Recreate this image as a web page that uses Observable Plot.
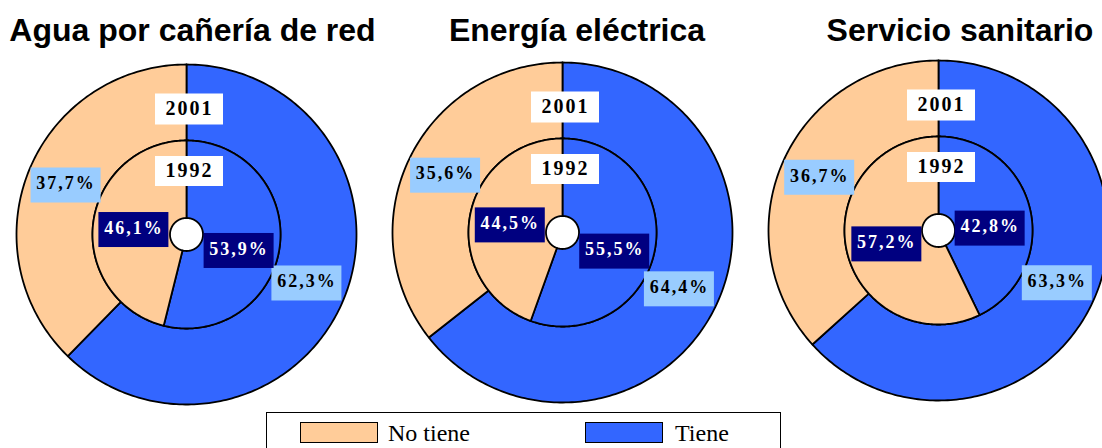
<!DOCTYPE html>
<html><head><meta charset="utf-8">
<script src="https://cdn.jsdelivr.net/npm/d3@7"></script>
<script src="https://cdn.jsdelivr.net/npm/@observablehq/plot@0.6"></script>
<style>
body{margin:0;background:#fff;}
#wrap{position:relative;width:1102px;height:448px;overflow:hidden;background:#fff;}
.title{position:absolute;top:14px;font:bold 32px "Liberation Sans",Arial,sans-serif;line-height:32px;white-space:nowrap;transform:translateX(-50%);color:#000;}
.panel{position:absolute;width:372px;height:372px;}
.panel svg{max-width:none !important;width:372px;height:372px;}
.panel svg text{letter-spacing:2px;}
#legend{position:absolute;left:266px;top:412px;width:515px;height:60px;border:1px solid #000;box-sizing:border-box;background:#fff;}
.sw{position:absolute;top:9px;width:78px;height:21px;border:1.5px solid #000;box-sizing:border-box;}
.lt{position:absolute;top:8px;font:24px "Liberation Serif","Times New Roman",serif;line-height:24px;color:#000;white-space:nowrap;}
</style></head>
<body><div id="wrap"></div>
<script>
// ---- data ----
const services = ["Agua por cañería de red", "Energía eléctrica", "Servicio sanitario"];
const years = ["1992", "2001"];
const categories = ["Tiene", "No tiene"];
const tiene1992 = [53.9, 55.5, 42.8];
const noTiene1992 = [46.1, 44.5, 57.2];
const tiene2001 = [62.3, 64.4, 63.3];
const noTiene2001 = [37.7, 35.6, 36.7];
const colors = ["#3366FF", "#FFCC99"];

// ---- layout ----
const SIZE = 372, UNIT = 170;           // px per unit (outer radius)
const R_OUT = 170, R_MID = 94, R_HOLE = 16.5;
const LAB_OUT = 130, LAB_IN = 53;
const innerLabelDrop = [10, 2];         // px downward shift of inner labels, per category
const panelLeft = [0, 376, 752];
const panelTop = [48, 46, 44];
const titleCenter = [192.5, 577, 960];

const wrap = document.getElementById("wrap");
const fmt = v => v.toFixed(1).replace(".", ",") + "%";

function ring(values, r0, r1, key) {
  let start = 0; const pts = [], labels = [];
  values.forEach((v, i) => {
    const a0 = start, a1 = start + v / 100 * 2 * Math.PI; start = a1;
    const n = Math.max(2, Math.ceil((a1 - a0) / (Math.PI / 180)));
    const poly = [];
    for (let k = 0; k <= n; k++) { const a = a0 + (a1 - a0) * k / n; poly.push([r1 * Math.sin(a), r1 * Math.cos(a)]); }
    for (let k = n; k >= 0; k--) { const a = a0 + (a1 - a0) * k / n; poly.push([r0 * Math.sin(a), r0 * Math.cos(a)]); }
    poly.push(poly[0]);
    poly.forEach(([x, y]) => pts.push({x: x / UNIT, y: y / UNIT, id: key + i, cat: categories[i]}));
    const mid = (a0 + a1) / 2;
    labels.push({v, mid, i});
  });
  return {pts, labels};
}

services.forEach((s, j) => {
  const t = document.createElement("div");
  t.className = "title"; t.style.left = titleCenter[j] + "px"; t.textContent = s;
  wrap.appendChild(t);

  const outer = ring([tiene2001[j], noTiene2001[j]], R_MID, R_OUT, "o");
  const inner = ring([tiene1992[j], noTiene1992[j]], R_HOLE, R_MID, "i");
  const outLab = outer.labels.map(d => ({text: fmt(d.v), x: LAB_OUT * Math.sin(d.mid) / UNIT, y: LAB_OUT * Math.cos(d.mid) / UNIT}));
  const inLab = inner.labels.map(d => ({text: fmt(d.v), x: LAB_IN * Math.sin(d.mid) / UNIT, y: (LAB_IN * Math.cos(d.mid) - innerLabelDrop[d.i]) / UNIT}));
  const yearLab = [
    {text: years[1], x: 3 / UNIT, y: 125 / UNIT, h: 31},
    {text: years[0], x: 3 / UNIT, y: 63 / UNIT, h: 30}
  ];
  const bw = 35 / UNIT, bh = 17.5 / UNIT;
  const half = SIZE / 2 / UNIT;
  const txt = {x: "x", y: "y", text: "text", fontFamily: "Liberation Serif, Times New Roman, serif", fontWeight: "bold", fontSize: 18, dy: -2};

  const chart = Plot.plot({
    width: SIZE, height: SIZE, margin: 0,
    x: {domain: [-half, half], axis: null},
    y: {domain: [-half, half], axis: null},
    color: {domain: categories, range: colors},
    marks: [
      Plot.line(outer.pts, {x: "x", y: "y", z: "id", fill: "cat", stroke: "#000", strokeWidth: 1.8, strokeLinejoin: "round"}),
      Plot.line(inner.pts, {x: "x", y: "y", z: "id", fill: "cat", stroke: "#000", strokeWidth: 1.8, strokeLinejoin: "round"}),
      Plot.rect(yearLab, {x1: d => d.x - 34 / UNIT, x2: d => d.x + 34 / UNIT, y1: d => d.y - d.h / 2 / UNIT, y2: d => d.y + d.h / 2 / UNIT, fill: "#fff"}),
      Plot.text(yearLab, {...txt, fontSize: 20, dy: -1, fill: "#000"}),
      Plot.rect(outLab, {x1: d => d.x - bw, x2: d => d.x + bw, y1: d => d.y - bh, y2: d => d.y + bh, fill: "#99CCFF"}),
      Plot.text(outLab, {...txt, fill: "#000"}),
      Plot.rect(inLab, {x1: d => d.x - bw, x2: d => d.x + bw, y1: d => d.y - bh, y2: d => d.y + bh, fill: "#000080"}),
      Plot.text(inLab, {...txt, fill: "#fff"})
    ]
  });
  const p = document.createElement("div");
  p.className = "panel"; p.style.left = panelLeft[j] + "px"; p.style.top = panelTop[j] + "px";
  p.appendChild(chart);
  wrap.appendChild(p);
});

// legend
const lg = document.createElement("div"); lg.id = "legend";
const swLeft = [33, 318], txLeft = [121, 408];
categories.slice().reverse().forEach((c, k) => {
  const idx = categories.indexOf(c);
  const sw = document.createElement("div"); sw.className = "sw";
  sw.style.left = swLeft[k] + "px"; sw.style.background = colors[idx];
  const tx = document.createElement("div"); tx.className = "lt";
  tx.style.left = txLeft[k] + "px"; tx.textContent = c;
  lg.appendChild(sw); lg.appendChild(tx);
});
wrap.appendChild(lg);
</script></body></html>
